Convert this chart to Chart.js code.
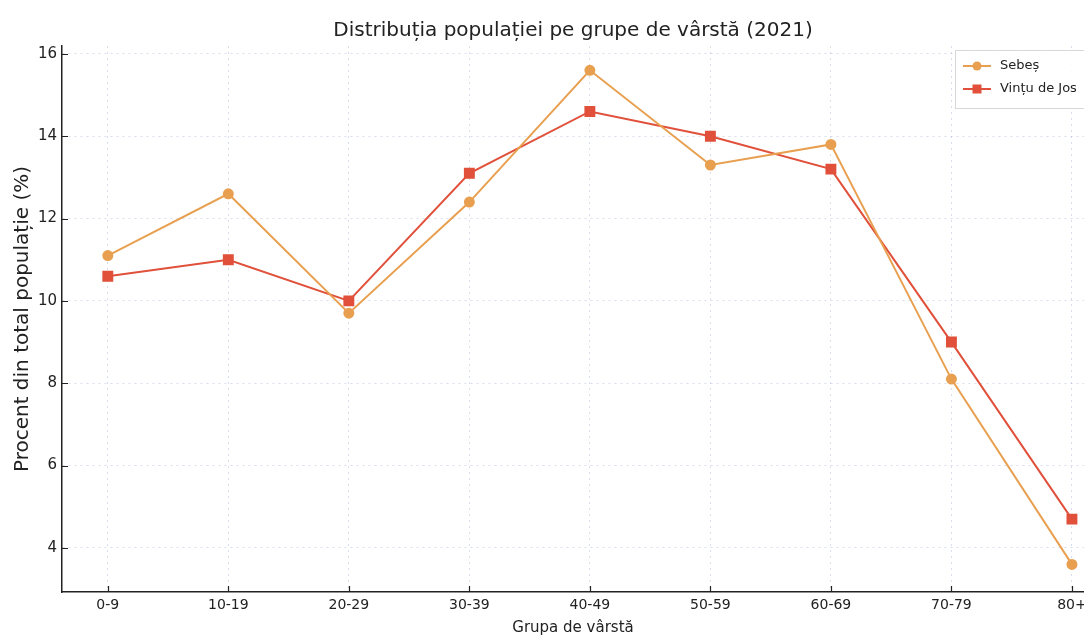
<!DOCTYPE html>
<html>
<head>
<meta charset="utf-8">
<script src="https://cdn.jsdelivr.net/npm/chart.js@4.4.1/dist/chart.umd.min.js"></script>
<style>
  html, body { margin: 0; padding: 0; background: #ffffff; overflow: hidden; }
  #wrap { width: 1084px; height: 637px; }
</style>
</head>
<body>
<div id="wrap"><canvas id="ageChart" width="1084" height="637"></canvas></div>
<script>
// Grupe de vârstă
var ageGroups = ['0-9', '10-19', '20-29', '30-39', '40-49', '50-59', '60-69', '70-79', '80+'];

// Procent din total populație (%)
var sebesValues = [11.1, 12.6, 9.7, 12.4, 15.6, 13.3, 13.8, 8.1, 3.6];
var vintuValues = [10.6, 11.0, 10.0, 13.1, 14.6, 14.0, 13.2, 9.0, 4.7];

var yTicks = [4, 6, 8, 10, 12, 14, 16];

var fontFamily = '"DejaVu Sans", "Liberation Sans", sans-serif';
var orange = '#e8a050';
var red = '#e0503a';

function toPoints(values) {
    return values.map(function(v, i) { return {x: i, y: v}; });
}

// Small inward tick marks, like the original plot
var innerTicks = {
    id: 'innerTicks',
    afterDraw: function(chart) {
        var ctx = chart.ctx;
        var area = chart.chartArea;
        var xs = chart.scales.x, ys = chart.scales.y;
        ctx.save();
        ctx.strokeStyle = '#222';
        ctx.lineWidth = 1.2;
        ctx.beginPath();
        ageGroups.forEach(function(g, i) {
            var px = Math.round(xs.getPixelForValue(i)) + 0.5;
            ctx.moveTo(px, area.bottom);
            ctx.lineTo(px, area.bottom - 6);
        });
        yTicks.forEach(function(t) {
            var py = Math.round(ys.getPixelForValue(t)) + 0.5;
            ctx.moveTo(area.left, py);
            ctx.lineTo(area.left + 6, py);
        });
        ctx.stroke();
        ctx.restore();
    }
};

// Legend inside the plot, upper right
var boxLegend = {
    id: 'boxLegend',
    afterDraw: function(chart) {
        var ctx = chart.ctx;
        var x0 = 955, y0 = 50, w = 140, h = 58;
        ctx.save();
        ctx.fillStyle = 'rgba(255,255,255,0.9)';
        ctx.strokeStyle = '#d8d8d8';
        ctx.lineWidth = 1;
        ctx.fillRect(x0, y0, w, h);
        ctx.strokeRect(x0 + 0.5, y0 + 0.5, w, h);
        chart.data.datasets.forEach(function(ds, i) {
            var cy = 66 + i * 23;
            ctx.strokeStyle = ds.borderColor;
            ctx.lineWidth = 2;
            ctx.beginPath();
            ctx.moveTo(963, cy);
            ctx.lineTo(991, cy);
            ctx.stroke();
            ctx.fillStyle = ds.pointBackgroundColor;
            if (ds.pointStyle === 'rect') {
                ctx.fillRect(972.5, cy - 4.5, 9, 9);
            } else {
                ctx.beginPath();
                ctx.arc(977, cy, 4.5, 0, Math.PI * 2);
                ctx.fill();
            }
            ctx.fillStyle = '#222';
            ctx.font = '13px ' + fontFamily;
            ctx.textBaseline = 'middle';
            ctx.fillText(ds.label, 1000, cy);
        });
        ctx.restore();
    }
};

new Chart(document.getElementById('ageChart'), {
    type: 'line',
    data: {
        datasets: [
            {
                label: 'Sebeș',
                data: toPoints(sebesValues),
                borderColor: orange,
                backgroundColor: orange,
                pointBackgroundColor: orange,
                pointBorderColor: orange,
                pointStyle: 'circle',
                pointRadius: 4.5,
                borderWidth: 2,
                tension: 0,
                clip: false
            },
            {
                label: 'Vințu de Jos',
                data: toPoints(vintuValues),
                borderColor: red,
                backgroundColor: red,
                pointBackgroundColor: red,
                pointBorderColor: red,
                pointStyle: 'rect',
                pointRadius: 6.3,
                borderWidth: 2,
                tension: 0,
                clip: false
            }
        ]
    },
    options: {
        responsive: false,
        animation: false,
        layout: { padding: 0, autoPadding: false },
        plugins: {
            legend: { display: false },
            tooltip: { enabled: false },
            title: {
                display: true,
                fullSize: false,
                text: 'Distribuția populației pe grupe de vârstă (2021)',
                color: '#222',
                font: { family: fontFamily, size: 20, weight: 'normal' },
                padding: { top: 19, bottom: 3 }
            }
        },
        scales: {
            x: {
                type: 'linear',
                min: -0.38,
                max: 8.1,
                afterFit: function(scale) {
                    scale.height = 45;
                    scale.paddingLeft = 0;
                    scale.paddingRight = 0;
                },
                afterBuildTicks: function(scale) {
                    scale.ticks = ageGroups.map(function(g, i) { return {value: i}; });
                },
                ticks: {
                    color: '#222',
                    font: { family: fontFamily, size: 14 },
                    padding: 5,
                    maxRotation: 0,
                    callback: function(v) { return ageGroups[v]; }
                },
                grid: {
                    color: 'rgba(170,180,215,0.45)',
                    lineWidth: 1,
                    drawTicks: false
                },
                border: { display: true, color: '#222', width: 1.5, dash: [2, 4] },
                title: {
                    display: true,
                    text: 'Grupa de vârstă',
                    color: '#222',
                    font: { family: fontFamily, size: 15 },
                    padding: { top: 2, bottom: 0 }
                }
            },
            y: {
                min: 2.93,
                max: 16.19,
                afterFit: function(scale) { scale.width = 62; },
                afterBuildTicks: function(scale) {
                    scale.ticks = yTicks.map(function(t) { return {value: t}; });
                },
                ticks: {
                    color: '#222',
                    font: { family: fontFamily, size: 15 },
                    padding: 5
                },
                grid: {
                    color: 'rgba(170,180,215,0.45)',
                    lineWidth: 1,
                    drawTicks: false
                },
                border: { display: true, color: '#222', width: 1.5, dash: [2, 4] },
                title: {
                    display: true,
                    text: 'Procent din total populație (%)',
                    color: '#222',
                    font: { family: fontFamily, size: 20 },
                    padding: { top: 11, bottom: 0 }
                }
            }
        }
    },
    plugins: [innerTicks, boxLegend]
});
</script>
</body>
</html>
